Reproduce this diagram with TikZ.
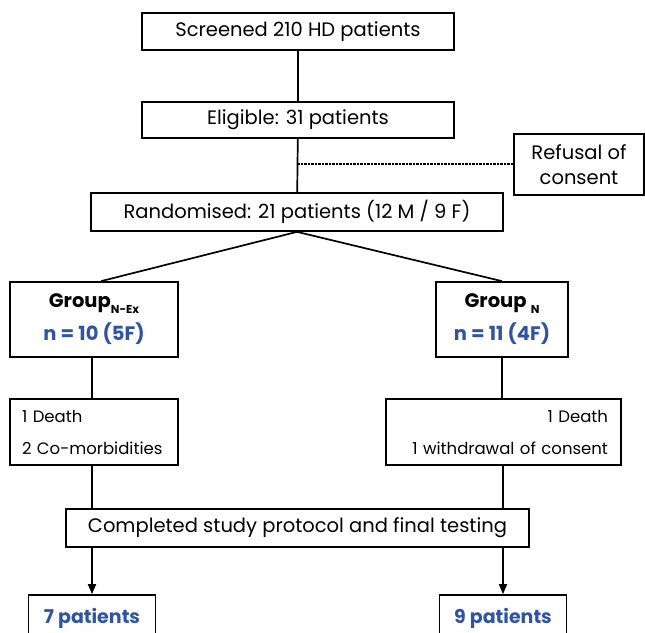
\documentclass[tikz,border=0pt]{standalone}
\usepackage{fontspec}
\setmainfont{Poppins}
\usetikzlibrary{arrows.meta,calc}
\definecolor{grpblue}{RGB}{47,84,163}
\begin{document}
\begin{tikzpicture}[x=1pt,y=-1pt,
  box/.style={draw, line width=1.7pt, inner sep=0pt, align=center,
    font=\fontsize{19.5}{25}\selectfont},
  grp/.style={box, font=\fontsize{19.5}{33}\selectfont\bfseries},
  rem/.style={draw, line width=1.7pt, inner ysep=0pt,
    font=\fontsize{16.5}{32}\selectfont},
  conn/.style={line width=1.7pt},
  arr/.style={line width=1.7pt, -{Triangle[length=10pt,width=8pt]}},
  dots/.style={line width=1.3pt, dash pattern=on 0.8pt off 0.6pt},
  blue/.style={text=grpblue}
]
\useasboundingbox (0,0) rectangle (645,632);

\node[box, minimum width=312, minimum height=37] (scr) at (298,31.5) {Screened 210 HD patients};
\node[box, minimum width=312, minimum height=36] (eli) at (298,120) {Eligible: 31 patients};
\node[box, minimum width=130, minimum height=61] (ref) at (579,164.5) {Refusal of\\consent};
\node[box, minimum width=412, minimum height=38] (ran) at (297,212) {Randomised: 21 patients (12 M / 9 F)};

\node[grp, minimum width=168, minimum height=75] (ga) at (94,319.5)
  {Group\raisebox{-6pt}{\fontsize{11.5}{12}\selectfont N-Ex}\\\textcolor{grpblue}{n = 10 (5F)}};
\node[grp, minimum width=132, minimum height=75] (gb) at (502,319.5)
  {Group \raisebox{-6pt}{\fontsize{11.5}{12}\selectfont N}\\\textcolor{grpblue}{n = 11 (4F)}};

\node[rem, inner xsep=12pt, text width=144pt, align=left, minimum height=66] (ra) at (94,432)
  {1 Death\\2 Co-morbidities};
\node[rem, inner xsep=13pt, text width=209pt, align=right, minimum height=66] (rb) at (503.5,432)
  {1 Death\\1 withdrawal of consent};

\node[box, minimum width=463, minimum height=38] (comp) at (297.5,528) {Completed study protocol and final testing};

\node[grp, minimum width=127, minimum height=46, text=grpblue, font=\fontsize{19}{25}\selectfont\bfseries] (pa) at (92,618) {7 patients};
\node[grp, minimum width=127, minimum height=46, text=grpblue, font=\fontsize{19}{25}\selectfont\bfseries] (pb) at (503,618) {9 patients};

\coordinate (dj) at (298,164);

\draw[conn] (scr) -- (eli);
\draw[conn] (eli) -- (ran);
\draw[dots] (dj) -- (dj -| ref.west);
\draw[conn] (ran.south) -- ([xshift=7pt]ga.north);
\draw[conn] (ran.south) -- (gb.north);
\draw[conn] (ga.south -| pa.north) -- (pa.north |- ra.north);
\draw[conn] (gb.south) -- (gb.south |- rb.north);
\draw[conn] (ra.south -| pa.north) -- (pa.north |- comp.north);
\draw[conn] (rb.south -| pb.north) -- (pb.north |- comp.north);
\draw[arr] (pa.north |- comp.south) -- (pa.north);
\draw[arr] (pb.north |- comp.south) -- (pb.north);
\end{tikzpicture}
\end{document}
